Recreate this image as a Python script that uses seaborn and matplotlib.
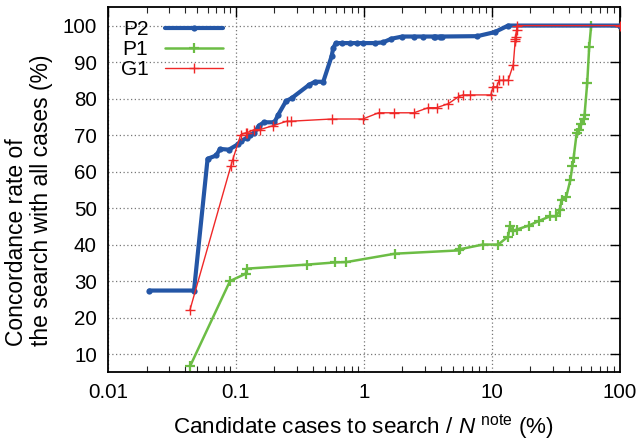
import numpy as np
import pandas as pd
import matplotlib
matplotlib.use("Agg")
import matplotlib.pyplot as plt
import seaborn as sns
from matplotlib.ticker import LogLocator, FixedLocator, NullFormatter

# ---- data ----
P2_x = [0.021, 0.047, 0.060, 0.070, 0.075, 0.088, 0.104, 0.109, 0.121, 0.128, 0.139, 0.151, 0.166,
        0.200, 0.214, 0.246, 0.272, 0.374, 0.414, 0.481, 0.559, 0.576, 0.603, 0.67, 0.78, 0.88,
        0.98, 1.21, 1.41, 1.64, 2.0, 2.46, 2.88, 3.5, 3.6, 3.9, 4.1, 7.7, 10.5, 13.4, 100]
P2_y = [27.4, 27.4, 63.5, 64.4, 66.2, 66.0, 67.5, 68.3, 69.2, 70.0, 70.5, 72.6, 73.5,
        73.5, 75.6, 79.3, 80.1, 83.8, 84.6, 84.6, 91.6, 93.9, 95.2, 95.2, 95.2, 95.2,
        95.2, 95.2, 95.4, 96.4, 97.0, 97.0, 97.0, 97.0, 97.0, 97.0, 97.0, 97.1, 98.2, 100, 100]

P1_x = [0.0437, 0.0898, 0.119, 0.122, 0.357, 0.593, 0.73, 1.75, 5.52, 5.6, 8.5, 11.2, 13.4,
        13.8, 14.5, 15.6, 19.4, 23.4, 28.3, 31.6, 34.0, 35.0, 38.0, 41.1, 42.5, 43.5, 46.0,
        48.0, 50.0, 52.5, 53.0, 55.6, 57.6, 59.7, 100]
P1_y = [6.6, 30.0, 32.0, 33.4, 34.5, 35.1, 35.2, 37.5, 38.4, 38.7, 40.0, 40.0, 42.2,
        45.0, 43.6, 44.1, 45.2, 46.5, 47.7, 47.7, 49.4, 52.3, 52.9, 57.8, 61.4, 63.7, 70.6,
        71.5, 72.9, 74.5, 75.6, 84.3, 94.1, 100, 100]

G1_x = [0.0437, 0.091, 0.094, 0.109, 0.119, 0.121, 0.139, 0.154, 0.196, 0.25, 0.27, 0.56,
        0.98, 1.3, 1.71, 2.46, 3.18, 3.7, 4.57, 5.48, 5.93, 6.7, 9.8, 10.2, 10.9, 11.4, 12.3,
        13.4, 14.7, 15.2, 15.2, 15.3, 15.6, 15.8, 100]
G1_y = [22.1, 61.4, 63.1, 70.1, 70.6, 70.6, 71.5, 71.5, 72.6, 73.8, 73.8, 74.4,
        74.4, 76.1, 76.1, 76.1, 77.5, 77.5, 78.6, 80.5, 81.0, 81.0, 81.0, 83.2, 83.2, 85.0, 85.0,
        85.0, 89.3, 95.7, 96.3, 97.0, 98.9, 100, 100]

x_ticks = [0.01, 0.1, 1, 10, 100]
x_tick_labels = ["0.01", "0.1", "1", "10", "100"]
y_ticks = [10, 20, 30, 40, 50, 60, 70, 80, 90, 100]

sns.set_theme(style="white")
plt.rcParams['font.family'] = ['Liberation Sans', 'DejaVu Sans']
plt.rcParams['mathtext.fontset'] = 'custom'
plt.rcParams['mathtext.it'] = 'Liberation Sans:italic'
plt.rcParams['mathtext.rm'] = 'Liberation Sans'
plt.rcParams['text.color'] = 'black'
plt.rcParams['axes.labelcolor'] = 'black'

fig = plt.figure(figsize=(6.41, 4.41), dpi=100)
ax = fig.add_axes([0.1685, 0.1558, 0.967 - 0.1685, 0.9834 - 0.1558])

blue = "#2456a6"
green = "#6cbd45"
red = "#f02828"

df_p2 = pd.DataFrame({"x": P2_x, "y": P2_y})
df_p1 = pd.DataFrame({"x": P1_x, "y": P1_y})
df_g1 = pd.DataFrame({"x": G1_x, "y": G1_y})

sns.lineplot(data=df_p2, x="x", y="y", ax=ax, sort=False, estimator=None, color=blue,
             lw=3, marker="o", markersize=4.5, markeredgewidth=0, markeredgecolor=blue,
             markerfacecolor=blue, label="P2", zorder=3)
sns.lineplot(data=df_p1, x="x", y="y", ax=ax, sort=False, estimator=None, color=green,
             lw=1.8, marker="+", markersize=7, markeredgewidth=1.6, markeredgecolor=green,
             label="P1", zorder=2)
sns.lineplot(data=df_g1, x="x", y="y", ax=ax, sort=False, estimator=None, color=red,
             lw=1.0, marker="+", markersize=7, markeredgewidth=1.0, markeredgecolor=red,
             label="G1", zorder=4)

ax.set_xscale("log")
ax.set_xlim(0.01, 100)
ax.set_ylim(5, 105)
ax.xaxis.set_major_locator(FixedLocator(x_ticks))
ax.set_xticklabels(x_tick_labels)
ax.xaxis.set_minor_locator(LogLocator(base=10, subs=np.arange(2, 10)))
ax.xaxis.set_minor_formatter(NullFormatter())
ax.set_yticks(y_ticks)

ax.grid(True, which="major", linestyle=(0, (1, 2)), color="#777777", lw=0.9)
ax.tick_params(axis="both", which="major", direction="in", length=7, width=1,
               top=True, right=True, labelsize=14.8, colors="black", pad=8)
ax.tick_params(axis="x", which="minor", direction="in", length=4, width=0.8,
               top=True, bottom=True)
for s in ax.spines.values():
    s.set_visible(True)
    s.set_color("black")
    s.set_linewidth(1.3)

ax.set_xlabel("Candidate cases to search / $\\mathit{N}$ $^{\\mathrm{note}}$ (%)", fontsize=16.2, labelpad=7)
ax.set_ylabel("Concordance rate of\nthe search with all cases (%)", fontsize=16.5,
              linespacing=1.1, multialignment="left")
ax.yaxis.set_label_coords(-0.107, 0.472)

leg = ax.legend(loc="upper left", frameon=False, fontsize=15, markerfirst=False,
                handlelength=2.8, labelspacing=0.05, borderaxespad=0.2, handletextpad=0.8,
                bbox_to_anchor=(0.0, 1.0))

fig.savefig("out.png", dpi=100)
